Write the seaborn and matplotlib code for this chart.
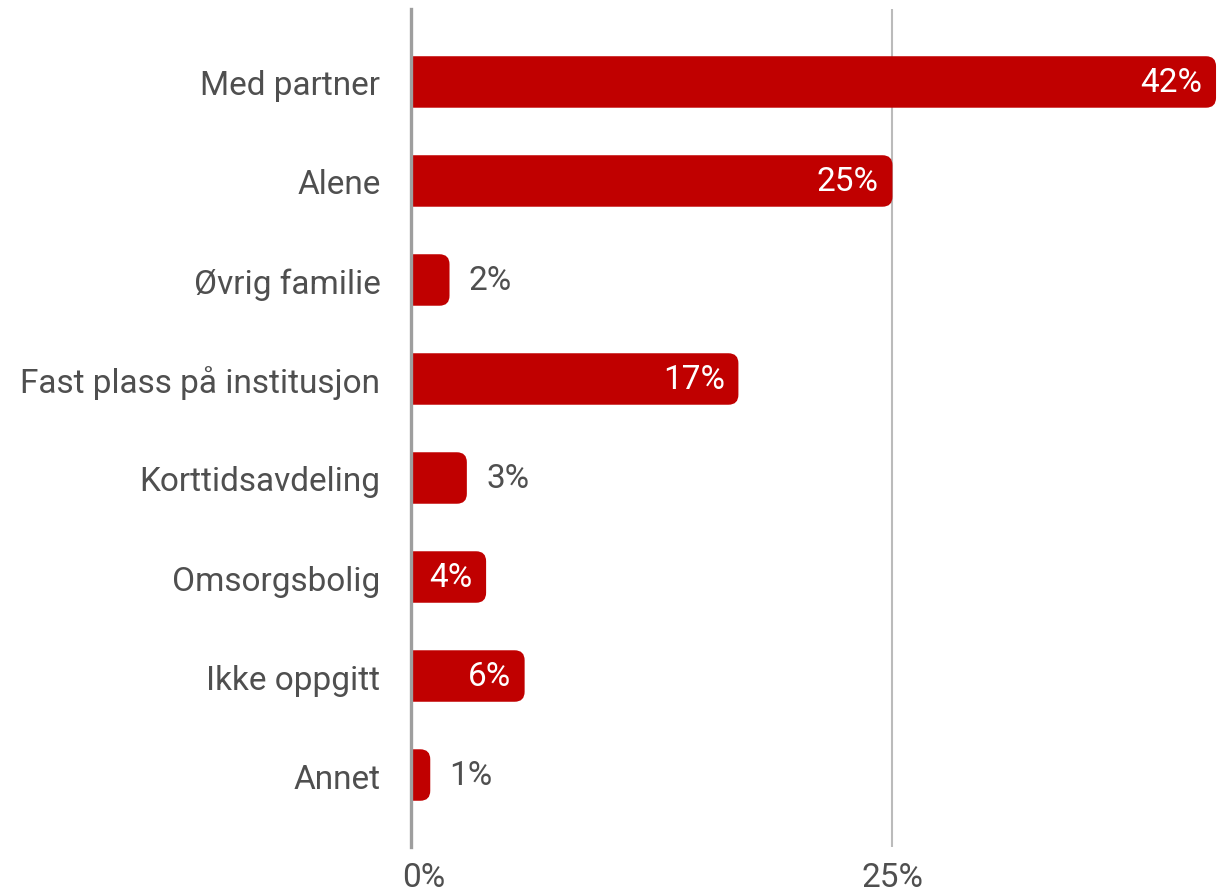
import numpy as np
import pandas as pd
import matplotlib.pyplot as plt
import seaborn as sns
from matplotlib.patches import FancyBboxPatch
from matplotlib.transforms import ScaledTranslation

categories = ["Med partner", "Alene", "Øvrig familie", "Fast plass på institusjon",
              "Korttidsavdeling", "Omsorgsbolig", "Ikke oppgitt", "Annet"]
shares = [41.8, 25.0, 2.0, 17.0, 2.9, 3.9, 5.9, 1.0]
xticks = [0, 25]
xticklabels = ["0%", "25%"]

df = pd.DataFrame({"kategori": categories, "andel": shares})

sns.set_style("white")
plt.rcParams['font.family'] = ['Roboto', 'DejaVu Sans']

red = "#c00000"
txt = "#4f4f4f"
fs = 24

fig = plt.figure(figsize=(12.17, 8.95), dpi=100)
ax = fig.add_axes([411 / 1217, 1 - 848 / 895, 1 - 411 / 1217, (848 - 10) / 895])

sns.barplot(data=df, x="andel", y="kategori", orient="h", color=red,
            width=0.52, saturation=1, ax=ax, zorder=3)

ax.set_xlim(0, 41.85)
ax.set_ylim(7.727, -0.737)

# px per data unit -> rounded corners
px_x = ax.get_position().width * 1217 / 41.85
px_y = ax.get_position().height * 895 / (7.727 + 0.737)
r = 10 / px_x
aspect = px_x / px_y

for bar in list(ax.patches):
    x, y = bar.get_x(), bar.get_y()
    w, h = bar.get_width(), bar.get_height()
    bar.remove()
    rb = FancyBboxPatch((x - 2, y), w + 2, h,
                        boxstyle=f"round,pad=0,rounding_size={r}",
                        mutation_aspect=aspect, facecolor=red,
                        edgecolor="none", zorder=3)
    ax.add_patch(rb)

for i, v in enumerate(shares):
    lab = f"{v:.0f}%"
    if v >= 3.5:
        ax.text(v - 0.7, i, lab, ha="right", va="center", color="white",
                fontsize=fs, zorder=4)
    else:
        ax.text(v + 1.0, i, lab, ha="left", va="center", color=txt,
                fontsize=fs, zorder=4)

ax.axvline(25, color="#bbbbbb", lw=1.5, zorder=1)
for s in ["top", "right", "bottom"]:
    ax.spines[s].set_visible(False)
ax.spines["left"].set_color("#9e9e9e")
ax.spines["left"].set_linewidth(2.4)
ax.spines["left"].set_zorder(5)

ax.set_xticks(xticks)
ax.set_xticklabels(xticklabels)
ax.tick_params(axis="x", length=0, pad=10, labelsize=fs, labelcolor=txt)
ax.tick_params(axis="y", length=0, pad=22, labelsize=fs, labelcolor=txt)
ax.set_xlabel("")
ax.set_ylabel("")

# first x label sits a bit to the right of the axis line
first = ax.get_xticklabels()[0]
first.set_transform(first.get_transform() + ScaledTranslation(0.13, 0, fig.dpi_scale_trans))

fig.savefig("out.png", dpi=100)
